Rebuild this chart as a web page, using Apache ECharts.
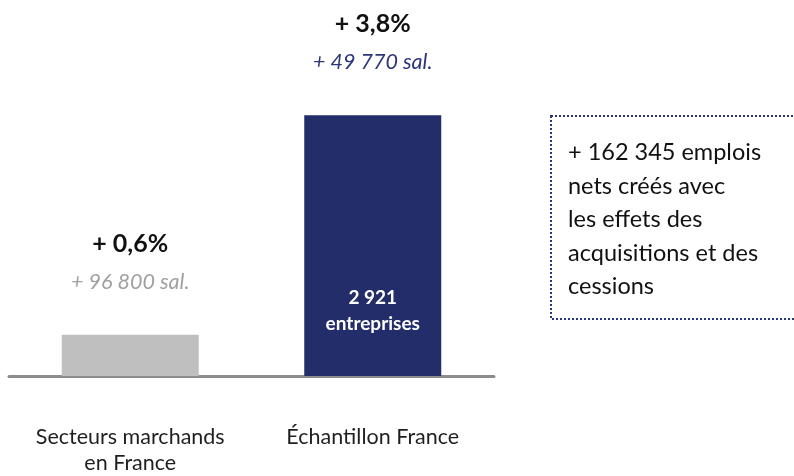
<!DOCTYPE html>
<html>
<head>
<meta charset="utf-8">
<script src="https://cdn.jsdelivr.net/npm/echarts@6/dist/echarts.min.js"></script>
<style>
  html, body { margin: 0; padding: 0; background: #fff; }
  #main { width: 794px; height: 476px; }
</style>
</head>
<body>
<div id="main"></div>
<script>
// données du graphique
const categories = ["Secteurs marchands\nen France", "Échantillon France"];
const growth = [0.6, 3.8];
const growthLabels = ["+ 0,6%", "+ 3,8%"];
const salLabels = ["+ 96 800 sal.", "+ 49 770 sal."];
const insideLabels = ["", "2 921\nentreprises"];
const barColors = ["#bfbfbf", "#222d6a"];
const salColors = ["#a0a0a0", "#2b3679"];
const noteText = "+ 162 345 emplois\nnets créés avec\nles effets des\nacquisitions et des\ncessions";

const font = "Lato, 'Open Sans', sans-serif";
let myChart = echarts.init(document.getElementById("main"));

let option = {
  animation: false,
  grid: { left: 9, right: 300, top: 33, bottom: 97 },
  xAxis: {
    type: "category",
    data: categories,
    axisTick: { show: false },
    axisLine: { lineStyle: { color: "#8c8c8c", width: 3 } },
    axisLabel: {
      color: "#1f1f1f",
      fontFamily: font,
      fontSize: 21.5,
      lineHeight: 26,
      margin: 48,
      interval: 0
    }
  },
  yAxis: {
    type: "value",
    min: 0,
    max: 5,
    show: false,
    splitLine: { show: false }
  },
  series: [
    {
      type: "bar",
      barWidth: 137,
      data: growth.map((v, i) => ({
        value: v,
        itemStyle: { color: barColors[i] },
        label: {
          show: true,
          position: "top",
          distance: 34,
          formatter: "{a|" + growthLabels[i] + "}\n{b|" + salLabels[i] + "}",
          rich: {
            a: { fontFamily: font, fontSize: 25, fontWeight: "bold", color: "#111", lineHeight: 38, align: "center" },
            b: { fontFamily: font, fontSize: 21.5, fontStyle: "italic", color: salColors[i], lineHeight: 38, align: "center" }
          }
        }
      }))
    },
    {
      type: "bar",
      barWidth: 137,
      barGap: "-100%",
      silent: true,
      itemStyle: { color: "rgba(0,0,0,0)" },
      data: growth.map((v, i) => ({
        value: v,
        label: {
          show: insideLabels[i] !== "",
          position: "insideBottom",
          distance: 39,
          formatter: insideLabels[i],
          fontFamily: font,
          fontSize: 19,
          fontWeight: "bold",
          color: "#fff",
          lineHeight: 26
        }
      }))
    }
  ],
  graphic: [
    {
      type: "rect",
      shape: { x: 551, y: 116, width: 260, height: 203 },
      style: { fill: "none", stroke: "#2b3679", lineWidth: 2, lineDash: [2, 2] }
    },
    {
      type: "text",
      left: 568,
      top: 136,
      style: {
        text: noteText,
        fontFamily: font,
        fontSize: 23.5,
        lineHeight: 33.5,
        fill: "#111"
      }
    }
  ]
};
myChart.setOption(option);
</script>
</body>
</html>
